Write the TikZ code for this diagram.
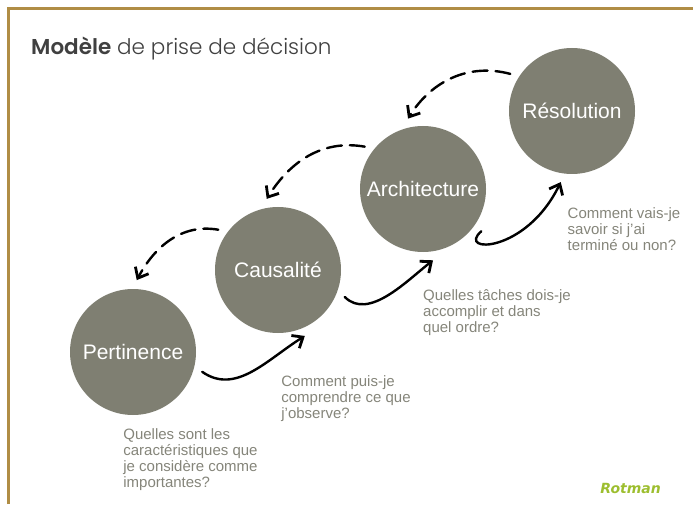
\documentclass[tikz,border=0pt]{standalone}
\usepackage{fontspec}
\setmainfont{Liberation Sans}
\newfontfamily\titlefont[BoldFont={Poppins SemiBold}]{Poppins Light}
\newfontfamily\logofont{DejaVu Sans}
\usetikzlibrary{arrows.meta}
\definecolor{rim}{HTML}{B08D45}
\definecolor{disc}{HTML}{7F7F72}
\definecolor{note}{HTML}{85857A}
\definecolor{logo}{HTML}{9DBE2F}
\begin{document}
\begin{tikzpicture}[x=1pt,y=1pt,node distance=145pt]

  % Definitions
  \tikzstyle{Phase} = [circle, fill=disc, minimum size=126pt, inner sep=0pt, outer sep=9pt, text=white, font=\fontsize{21}{24}\selectfont]
  \tikzstyle{Question} = [align=left, inner sep=0pt, text=note, font=\fontsize{15}{16}\selectfont]
  \tikzstyle{arrow} = [line width=2.4pt,-{Straight Barb[length=9pt,width=15pt,line width=2.8pt]},line cap=round]
  \tikzstyle{back} = [arrow,dash pattern=on 15pt off 8pt]

  \useasboundingbox (0,0) rectangle (693,504);
  \draw [rim, line width=3pt] (8,0) -- (8,495) -- (693,495);

  \node (Title) [anchor=base west, inner sep=0pt, text=black!75, font=\titlefont\fontsize{21.5}{26}\selectfont] at (31,449) {\textbf{Modèle} de prise de décision};

  \node (Pert) [Phase] at (133,152) {Pertinence};
  \node (Caus) [Phase, right of=Pert, yshift=82pt] {Causalité};
  \node (Arch) [Phase, right of=Caus, yshift=81pt] {Architecture};
  \node (Res) [Phase, right of=Arch, xshift=4pt, yshift=78pt] {Résolution};

  \node (QPert) [Question, below of=Pert, xshift=57.5pt, yshift=37.5pt] {Quelles sont les\\caractéristiques que\\je considère comme\\importantes?};
  \node (QCaus) [Question, below of=Caus, xshift=68pt, yshift=16.5pt] {Comment puis-je\\comprendre ce que\\j'observe?};
  \node (QArch) [Question, below of=Arch, xshift=74pt, yshift=21.5pt] {Quelles tâches dois-je\\accomplir et dans\\quel ordre?};
  \node (QRes) [Question, below of=Res, xshift=52pt, yshift=27pt] {Comment vais-je\\savoir si j'ai\\terminé ou non?};

  \node (Logo) [anchor=base east, inner sep=0pt, text=logo, font=\logofont\bfseries\itshape\fontsize{14}{16}\selectfont] at (661,11) {Rotman};

  \draw [arrow, shorten >=-4pt] (Pert.-16) to[out=-35,in=212,looseness=1] (Caus.-71);
  \draw [arrow] (Caus.-22) to[out=-45,in=218,looseness=0.9] (Arch.-82);
  \draw [arrow] (Arch.-36) .. controls +(-25,-22) and +(-35,-72) .. (Res.-99);

  \draw [back] (Res.149) to[out=165,in=58] (Arch.102);
  \draw [back] (Arch.144) to[out=170,in=58] (Caus.99);
  \draw [back] (Caus.146) to[out=170,in=62] (Pert.87);

\end{tikzpicture}
\end{document}
